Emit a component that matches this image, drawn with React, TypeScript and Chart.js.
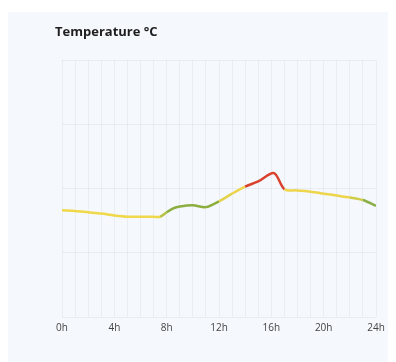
import React, { useEffect, useRef } from "react";
import { Chart, registerables } from "chart.js";

Chart.register(...registerables);

const hours = [0, 1, 2, 3, 4, 5, 6, 7, 7.5, 8, 8.5, 9, 10, 11, 12, 13, 14, 15, 16.2, 17, 18, 19, 20, 21, 22, 23, 24];
const temps = [16.6, 16.5, 16.3, 16.1, 15.8, 15.6, 15.6, 15.6, 15.6, 16.3, 16.9, 17.2, 17.4, 17.1, 18.0, 19.2, 20.3, 21.1, 22.4, 19.9, 19.7, 19.5, 19.2, 18.9, 18.6, 18.2, 17.3];
const segmentColors = [
  "#efd84a", "#efd84a", "#efd84a", "#efd84a", "#efd84a", "#efd84a", "#efd84a", "#efd84a",
  "#b8c244", "#8cae3e", "#8cae3e", "#8cae3e", "#8cae3e", "#8cae3e",
  "#e4d24a", "#ecd34a",
  "#d9432e", "#d9432e", "#d9432e",
  "#eed54c", "#eed54c", "#eed54c", "#eed54c", "#eed54c",
  "#cfcc4a", "#8aae48",
];
const tickLabels: Record<number, string> = { 0: "0h", 4: "4h", 8: "8h", 12: "12h", 16: "16h", 20: "20h", 24: "24h" };

export default function App() {
  const ref = useRef<HTMLCanvasElement | null>(null);
  useEffect(() => {
    document.body.style.margin = "0";
    if (!ref.current) return;
    const chart = new Chart(ref.current, {
      type: "line",
      data: {
        datasets: [
          {
            data: hours.map((h, i) => ({ x: h, y: temps[i] })),
            borderWidth: 2.5,
            pointRadius: 0,
            tension: 0.3,
            borderColor: "#efd84a",
            segment: {
              borderColor: (ctx: any) => segmentColors[ctx.p0DataIndex] || "#efd84a",
            },
          },
        ],
      },
      options: {
        animation: false,
        responsive: false,
        maintainAspectRatio: false,
        layout: { padding: { left: 62, right: 20, top: 60, bottom: 23 } },
        plugins: { legend: { display: false }, tooltip: { enabled: false } },
        scales: {
          x: {
            type: "linear",
            min: 0,
            max: 24,
            border: { display: false },
            grid: { color: "rgba(40,60,100,0.05)", drawTicks: false },
            ticks: {
              stepSize: 1,
              autoSkip: false,
              maxRotation: 0,
              padding: 5,
              color: "#444",
              font: { family: "Open Sans", size: 10 },
              callback: (v: any) => tickLabels[v as number] ?? "",
            },
          },
          y: {
            min: 0,
            max: 40,
            border: { display: false },
            grid: { color: "rgba(40,60,100,0.06)", drawTicks: false },
            ticks: { stepSize: 10, display: false },
          },
        },
      },
    });
    return () => chart.destroy();
  }, []);
  return (
    <div style={{ position: "relative", width: 396, height: 362, background: "#ffffff" }}>
      <div style={{ position: "absolute", left: 8, top: 12, width: 380, height: 350, background: "#f5f8fc" }} />
      <canvas ref={ref} width={396} height={362} style={{ position: "absolute", left: 0, top: 0, width: 396, height: 362 }} />
      <div
        style={{
          position: "absolute",
          left: 55,
          top: 22,
          fontFamily: "Open Sans",
          fontWeight: 700,
          fontSize: 13,
          color: "#1e1e1e",
        }}
      >
        Temperature °C
      </div>
    </div>
  );
}
